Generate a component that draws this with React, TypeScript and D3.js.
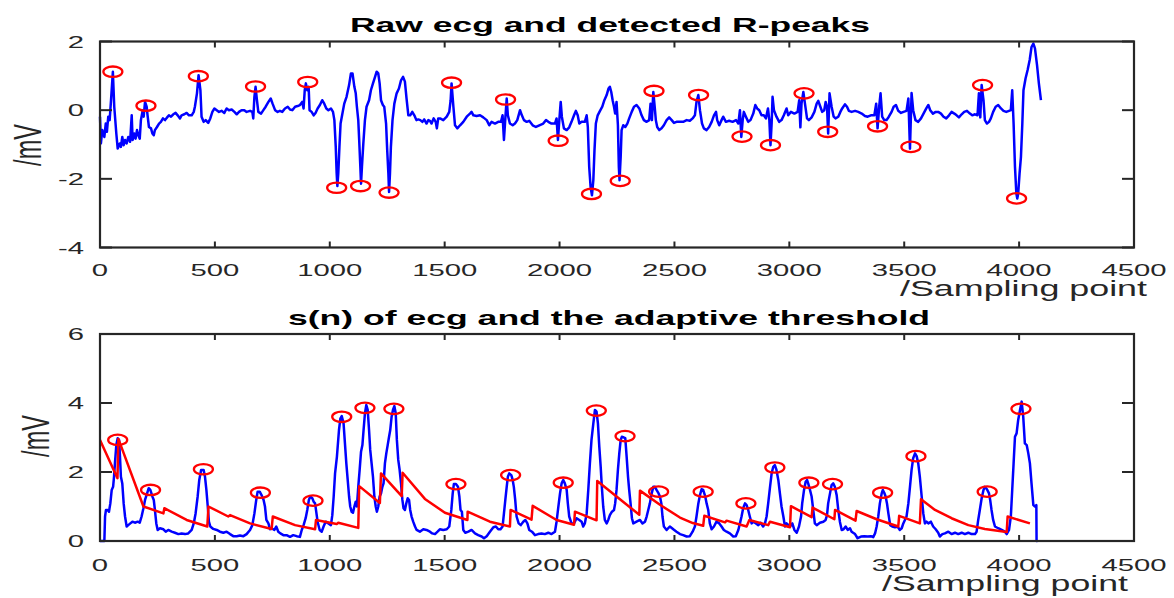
import React from "react";
import * as d3 from "d3";

// ---------- data ----------
const xTicks = [0, 500, 1000, 1500, 2000, 2500, 3000, 3500, 4000, 4500];
const topYTicks = [-4, -2, 0, 2];
const bottomYTicks = [0, 2, 4, 6];

const topTitle = "Raw ecg and detected R-peaks";
const bottomTitle = "s(n) of ecg and the adaptive threshold";
const xLabel = "/Sampling point";
const yLabel = "/mV";

// raw ECG [sample, mV]
const rawEcg: [number, number][] = [
  [0,-0.19],[4,-0.97],[10,-0.58],[19,-0.78],[25,-0.39],[30,-0.63],[36,-0.19],[42,-0.29],[48,0.29],[56,1.12],[62,0.10],[71,-0.68],[77,-1.12],[86,-0.97],[91,-1.07],[97,-0.78],[103,-1.02],[109,-0.87],[116,-0.97],[123,-0.78],[131,-0.92],[138,-0.15],[142,-0.87],[149,-0.68],[155,-0.83],[161,-0.58],[167,-0.73],[173,-0.83],[178,-0.29],[186,0],[190,-0.19],[196,0.24],[203,0.10],[207,-0.15],[213,-0.49],[222,-0.53],[228,-0.68],[234,-0.73],[239,-0.58],[248,-0.49],[257,-0.39],[265,-0.34],[274,-0.24],[283,-0.29],[292,-0.21],[300,-0.15],[309,-0.19],[319,-0.12],[329,-0.08],[338,-0.15],[348,-0.24],[355,-0.15],[367,-0.12],[377,-0.08],[387,-0.15],[399,-0.15],[408,-0.05],[413,0.10],[422,0.49],[429,1.02],[437,0.58],[442,-0.19],[451,-0.34],[460,-0.29],[471,-0.37],[480,-0.24],[489,-0.05],[498,0.05],[508,0],[518,-0.05],[529,-0.02],[541,-0.08],[551,0.05],[561,0],[573,0.02],[585,-0.05],[595,-0.12],[605,-0.05],[616,0],[628,0],[638,-0.05],[653,-0.02],[663,-0.05],[667,-0.24],[672,0.39],[677,0.68],[683,0.29],[689,-0.05],[701,-0.10],[711,0],[721,0.10],[733,0.24],[743,0.34],[751,0.19],[762,0],[773,-0.05],[783,-0.02],[793,-0.05],[805,0.05],[817,0.10],[827,0.02],[837,0],[849,0.10],[860,0.12],[870,0.15],[880,0.24],[886,0.05],[891,0.58],[896,0.78],[902,0.58],[908,0.68],[912,0],[921,-0.05],[930,-0.15],[938,-0.08],[947,0.05],[957,0.15],[967,0.29],[976,0.19],[985,0.05],[994,0],[1005,0.05],[1014,-0.05],[1020,-0.29],[1026,-1.07],[1030,-1.84],[1033,-2.21],[1037,-1.84],[1042,-1.07],[1047,-0.39],[1055,-0.10],[1063,0.19],[1073,0.39],[1084,0.73],[1092,1.07],[1099,1.07],[1107,0.68],[1113,0.49],[1118,0.10],[1124,-0.29],[1128,-0.87],[1133,-1.65],[1136,-2.14],[1140,-1.65],[1146,-0.97],[1153,-0.29],[1160,0.10],[1171,0.29],[1179,0.58],[1188,0.78],[1197,0.97],[1204,1.12],[1211,1.07],[1217,0.78],[1223,0.29],[1231,0.15],[1237,0.10],[1245,-0.39],[1250,-1.17],[1255,-1.84],[1258,-2.38],[1262,-1.84],[1266,-1.07],[1273,-0.29],[1281,0.19],[1291,0.49],[1301,0.63],[1310,0.87],[1319,0.97],[1327,0.83],[1334,0.34],[1342,-0.15],[1350,-0.15],[1359,-0.05],[1368,-0.15],[1377,-0.29],[1385,-0.27],[1394,-0.29],[1403,-0.34],[1411,-0.27],[1421,-0.39],[1429,-0.29],[1436,-0.31],[1443,-0.39],[1452,-0.24],[1461,-0.34],[1466,-0.53],[1472,-0.24],
  [1480,-0.24],[1494,-0.29],[1509,-0.19],[1520,-0.05],[1526,0.29],[1530,0.78],[1538,0.10],[1545,-0.44],[1555,-0.53],[1567,-0.44],[1581,-0.34],[1596,-0.19],[1610,-0.10],[1617,-0.05],[1625,-0.15],[1639,-0.17],[1654,-0.15],[1668,-0.21],[1683,-0.29],[1694,-0.44],[1704,-0.34],[1719,-0.39],[1733,-0.34],[1745,-0.34],[1752,-0.15],[1758,-0.87],[1764,-0.24],[1770,0.34],[1775,-0.15],[1784,-0.39],[1796,-0.44],[1806,-0.39],[1816,-0.29],[1828,0],[1836,-0.15],[1845,-0.29],[1857,-0.34],[1868,-0.31],[1883,-0.44],[1897,-0.49],[1912,-0.44],[1929,-0.39],[1941,-0.29],[1951,-0.34],[1965,-0.39],[1980,-0.39],[1987,-0.24],[1993,-0.87],[1999,-0.29],[2005,0.24],[2010,-0.19],[2019,-0.53],[2031,-0.58],[2042,-0.50],[2052,-0.34],[2063,-0.15],[2071,-0.02],[2079,-0.15],[2086,-0.39],[2096,-0.34],[2110,-0.34],[2118,-0.15],[2123,-0.49],[2129,-1.65],[2135,-2.23],[2141,-2.48],[2147,-2.04],[2152,-1.17],[2158,-0.39],[2166,-0.15],[2176,-0.02],[2186,0.10],[2195,0.29],[2205,0.44],[2213,0.63],[2219,0.68],[2225,0.53],[2231,0.29],[2237,0.10],[2242,-0.10],[2248,0.24],[2254,-0.44],[2258,-1.65],[2261,-2.04],[2266,-1.36],[2270,-0.58],[2277,-0.44],[2286,-0.49],[2295,-0.39],[2303,-0.24],[2314,-0.05],[2324,0.10],[2335,0.15],[2347,0.05],[2357,-0.15],[2367,-0.29],[2379,-0.34],[2390,-0.29],[2396,0.19],[2402,-0.29],[2408,0.53],[2414,0.10],[2419,-0.29],[2425,-0.49],[2434,-0.58],[2444,-0.53],[2454,-0.44],[2466,-0.29],[2477,-0.21],[2488,-0.29],[2498,-0.37],[2509,-0.34],[2524,-0.34],[2538,-0.34],[2553,-0.29],[2567,-0.31],[2579,-0.24],[2589,-0.15],[2596,0.24],[2604,0.44],[2611,0],[2620,-0.39],[2628,-0.53],[2640,-0.58],[2651,-0.49],[2662,-0.34],[2672,-0.15],[2681,-0.05],[2686,-0.29],[2695,-0.44],[2705,-0.29],[2712,-0.19],[2724,-0.34],[2738,-0.31],[2753,-0.34],[2768,-0.29],[2778,-0.39],[2785,0],[2791,-0.78],[2797,-0.29],[2802,-0.05],[2811,-0.19],[2821,-0.34],[2831,-0.29],[2843,-0.10],[2852,0.15],[2860,0.05],[2869,0],[2879,-0.15],[2889,-0.15],[2898,-0.24],[2907,0.05],[2913,-0.29],[2918,-1.02],[2923,-0.39],[2927,0.39],[2933,0],[2944,-0.19],[2956,-0.34],[2966,-0.29],[2976,-0.15],
  [2988,0.05],[2995,-0.15],[3007,-0.05],[3022,-0.10],[3036,-0.05],[3043,0.29],[3048,-0.50],[3053,0.19],[3061,0.53],[3068,0.19],[3077,-0.24],[3085,-0.29],[3097,-0.21],[3109,-0.05],[3119,0.19],[3126,0.27],[3135,0.10],[3143,-0.05],[3152,0],[3158,0.24],[3164,0.10],[3169,-0.68],[3175,0.49],[3184,0.10],[3193,-0.19],[3201,-0.24],[3213,-0.19],[3222,-0.05],[3230,0.05],[3242,0.17],[3251,0.10],[3259,-0.02],[3271,-0.05],[3286,-0.02],[3300,-0.05],[3315,-0.10],[3329,-0.17],[3341,-0.19],[3355,-0.15],[3370,-0.15],[3378,0.19],[3384,-0.53],[3391,0.10],[3397,0.49],[3404,-0.19],[3413,-0.29],[3423,-0.29],[3433,-0.19],[3445,-0.05],[3454,0.10],[3464,0.15],[3474,-0.02],[3486,-0.08],[3497,-0.05],[3510,-0.02],[3518,0.34],[3525,-1.12],[3532,0.50],[3539,0],[3549,-0.29],[3561,-0.34],[3573,-0.24],[3584,-0.10],[3596,0.05],[3605,0.15],[3613,0],[3625,-0.10],[3637,-0.05],[3648,-0.05],[3660,-0.10],[3671,-0.19],[3683,-0.24],[3695,-0.15],[3706,-0.05],[3718,-0.10],[3728,-0.15],[3738,-0.21],[3750,-0.12],[3761,-0.05],[3773,-0.02],[3786,-0.10],[3796,-0.15],[3808,-0.12],[3819,-0.15],[3825,0.49],[3831,-0.21],[3837,0.73],[3845,0.29],[3851,-0.29],[3860,-0.39],[3869,-0.34],[3877,-0.24],[3887,-0.05],[3898,0.10],[3909,0.15],[3921,0.05],[3932,-0.02],[3944,-0.05],[3956,-0.02],[3964,0],[3970,0.58],[3976,-0.39],[3982,-1.65],[3988,-2.43],[3992,-2.57],[3996,-2.43],[4002,-1.84],[4008,-1.36],[4014,-0.39],[4019,0.58],[4028,0.92],[4037,1.17],[4046,1.46],[4054,1.84],[4062,1.94],[4069,1.80],[4078,1.31],[4086,0.78],[4095,0.29],
];

// detected R-peaks on raw ECG [sample, mV]
const rawPeaks: [number, number][] = [
  [56,1.12],[200,0.13],[428,0.99],[677,0.69],[904,0.82],[1030,-2.26],[1134,-2.21],[1258,-2.40],[1530,0.80],[1765,0.31],[1994,-0.89],[2139,-2.44],[2264,-2.06],[2411,0.56],[2605,0.44],[2794,-0.77],[2918,-1.02],[3064,0.49],[3167,-0.63],[3384,-0.47],[3529,-1.07],[3841,0.73],[3989,-2.57],
];

// s(n) [sample, value]
const sSignal: [number, number][] = [
  [0,0],[19,0],[22,0.71],[26,0.90],[33,0.90],[39,0.85],[45,1.09],[51,1.48],[57,1.57],[61,1.86],[65,2.25],[71,2.78],[77,2.98],[83,2.93],[87,2.44],[91,1.86],[97,1.67],[103,1.09],[109,0.71],[116,0.42],[123,0.46],[132,0.51],[141,0.56],[152,0.53],[164,0.56],[173,0.53],[181,0.71],[189,0.95],[196,1.19],[205,1.38],[212,1.53],[219,1.48],[228,1.29],[234,1.19],[239,0.90],[245,0.51],[251,0.32],[261,0.37],[276,0.34],[286,0.27],[297,0.32],[312,0.27],[326,0.24],[341,0.20],[355,0.22],[370,0.20],[384,0.22],[399,0.32],[408,0.51],[416,0.80],[425,1.29],[432,1.77],[440,2.06],[451,2.06],[457,1.86],[463,1.48],[469,1.00],[474,0.56],[480,0.42],[493,0.35],[508,0.32],[522,0.27],[537,0.24],[551,0.27],[566,0.20],[580,0.14],[595,0.14],[609,0.16],[624,0.14],[638,0.20],[653,0.32],[663,0.46],[672,0.80],[680,1.19],[686,1.43],[695,1.43],[703,1.33],[712,1.19],[718,1.00],[724,0.61],[733,0.51],[740,0.34],[747,0.37],[759,0.32],[767,0.42],[776,0.27],[785,0.22],[798,0.17],[812,0.17],[827,0.12],[841,0.17],[856,0.14],[870,0.12],[878,0.32],[886,0.46],[895,0.66],[902,0.90],[909,1.19],[915,1.29],[924,1.24],[930,1.14],[936,1.09],[941,0.85],[947,0.56],[956,0.32],[965,0.27],[973,0.42],[982,0.56],[994,0.51],[1005,0.46],[1011,0.75],[1017,1.29],[1023,1.96],[1031,2.44],[1040,3.21],[1046,3.55],[1052,3.62],[1060,3.41],[1066,2.83],[1072,2.25],[1078,1.77],[1084,1.29],[1089,1.00],[1095,0.85],[1101,0.82],[1107,1.00],[1113,1.14],[1118,1.00],[1124,1.57],[1130,2.06],[1136,2.59],[1142,2.78],[1147,3.21],[1153,3.70],[1159,3.94],[1165,3.80],[1171,3.21],[1176,2.64],[1182,2.25],[1188,1.86],[1194,1.29],[1200,1.00],[1205,0.85],[1211,1.00],[1217,1.29],[1223,1.38],[1229,1.57],[1234,1.67],[1240,2.25],[1246,2.54],[1252,2.78],[1258,3.02],[1263,3.21],[1269,3.60],[1275,3.80],[1281,3.91],[1287,3.70],[1292,2.93],[1298,2.35],[1304,2.06],[1310,1.67],[1316,1.19],[1321,0.95],[1327,0.90],[1333,1.09],[1339,1.24],[1345,1.19],[1350,0.90],[1356,0.71],[1363,0.56],[1371,0.42],[1378,0.32],[1392,0.27],[1407,0.34],[1421,0.32],[1436,0.27],[1446,0.22],[1458,0.20],[1469,0.27],[1479,0.34],
  [1494,0.32],[1509,0.34],[1520,0.42],[1529,0.90],[1535,1.38],[1540,1.65],[1549,1.65],[1558,1.57],[1564,1.29],[1569,0.90],[1575,0.85],[1581,0.32],[1590,0.24],[1603,0.27],[1617,0.32],[1632,0.22],[1646,0.17],[1661,0.13],[1671,0.08],[1683,0.14],[1697,0.27],[1712,0.40],[1723,0.42],[1733,0.34],[1743,0.34],[1752,0.42],[1758,0.80],[1764,1.19],[1770,1.57],[1775,1.86],[1781,1.96],[1790,1.91],[1796,1.77],[1801,1.57],[1807,1.19],[1813,0.71],[1822,0.51],[1831,0.46],[1842,0.56],[1851,0.61],[1860,0.51],[1868,0.32],[1880,0.27],[1893,0.17],[1907,0.20],[1922,0.22],[1936,0.20],[1951,0.24],[1965,0.20],[1980,0.27],[1987,0.56],[1994,0.95],[2002,1.38],[2009,1.67],[2016,1.77],[2023,1.67],[2031,1.48],[2036,1.09],[2042,0.71],[2052,0.51],[2063,0.51],[2074,0.66],[2086,0.61],[2096,0.56],[2103,0.42],[2110,0.51],[2118,0.80],[2125,1.48],[2132,2.25],[2139,2.93],[2147,3.41],[2154,3.80],[2161,3.75],[2167,3.41],[2173,2.73],[2179,2.15],[2184,1.57],[2190,1.00],[2197,0.61],[2205,0.51],[2212,0.61],[2219,0.75],[2228,0.85],[2237,0.90],[2242,1.09],[2248,1.48],[2254,2.06],[2260,2.54],[2266,2.93],[2271,3.02],[2280,3.00],[2286,2.98],[2292,2.44],[2298,1.86],[2303,1.48],[2309,1.09],[2315,0.66],[2321,0.51],[2335,0.56],[2350,0.61],[2361,0.51],[2372,0.56],[2379,0.71],[2386,0.90],[2393,1.09],[2401,1.38],[2408,1.57],[2415,1.57],[2422,1.48],[2431,1.38],[2437,1.29],[2443,1.09],[2448,0.71],[2454,0.42],[2466,0.32],[2480,0.42],[2495,0.34],[2509,0.27],[2524,0.20],[2538,0.17],[2553,0.13],[2567,0.14],[2579,0.27],[2589,0.42],[2596,0.71],[2604,1.09],[2611,1.33],[2618,1.50],[2625,1.48],[2634,1.29],[2640,1.09],[2647,0.90],[2654,0.51],[2662,0.34],[2672,0.42],[2683,0.56],[2695,0.51],[2705,0.42],[2715,0.32],[2727,0.27],[2741,0.22],[2756,0.13],[2767,0.14],[2778,0.32],[2785,0.51],[2792,0.71],[2799,0.95],[2807,1.09],[2814,1.04],[2821,0.90],[2828,0.71],[2836,0.51],[2843,0.56],[2855,0.51],[2865,0.46],[2875,0.53],[2886,0.42],[2894,0.51],[2901,0.71],[2908,1.09],[2916,1.57],[2923,1.96],[2930,2.15],[2937,2.20],[2944,2.06],[2952,1.77],[2959,1.38],[2966,1.00],[2974,0.71],[2981,0.42],[2988,0.51],
  [3003,0.42],[3013,0.51],[3022,0.32],[3032,0.24],[3042,0.42],[3051,0.71],[3056,1.09],[3064,1.48],[3071,1.72],[3077,1.77],[3082,1.67],[3090,1.48],[3097,1.29],[3104,0.90],[3111,0.51],[3119,0.46],[3133,0.53],[3148,0.56],[3158,0.61],[3164,0.75],[3169,1.09],[3177,1.38],[3184,1.62],[3191,1.67],[3198,1.57],[3206,1.33],[3213,0.90],[3220,0.56],[3228,0.32],[3236,0.34],[3245,0.42],[3254,0.32],[3264,0.37],[3271,0.27],[3286,0.20],[3297,0.08],[3312,0.13],[3326,0.14],[3341,0.13],[3355,0.14],[3365,0.11],[3373,0.22],[3380,0.42],[3387,0.71],[3394,1.09],[3402,1.38],[3407,1.48],[3413,1.40],[3419,1.29],[3425,1.09],[3431,0.80],[3439,0.46],[3448,0.42],[3460,0.40],[3471,0.42],[3481,0.32],[3489,0.37],[3496,0.51],[3503,0.61],[3510,0.71],[3518,1.09],[3525,1.57],[3532,2.06],[3539,2.40],[3547,2.54],[3554,2.46],[3561,2.25],[3568,1.86],[3576,1.29],[3583,0.80],[3590,0.51],[3597,0.56],[3605,0.51],[3616,0.56],[3626,0.42],[3637,0.34],[3648,0.24],[3655,0.13],[3666,0.20],[3677,0.22],[3692,0.27],[3706,0.20],[3721,0.24],[3735,0.20],[3750,0.24],[3764,0.20],[3779,0.24],[3793,0.20],[3808,0.20],[3815,0.27],[3822,0.61],[3829,0.90],[3837,1.24],[3845,1.48],[3851,1.57],[3860,1.50],[3869,1.38],[3874,1.19],[3880,0.90],[3887,0.61],[3895,0.42],[3909,0.37],[3924,0.32],[3938,0.27],[3946,0.20],[3956,0.32],[3964,0.71],[3970,1.48],[3976,2.25],[3982,3.02],[3989,3.12],[3996,3.51],[4004,3.80],[4011,4.04],[4018,3.60],[4025,2.83],[4033,2.78],[4040,2.54],[4047,2.25],[4054,1.67],[4062,1.04],[4069,1.00],[4075,1.04],[4076,0],[4080,0],
];

// detected peaks on s(n)
const sPeaks: [number, number][] = [
  [77,2.93],[220,1.48],[450,2.08],[698,1.40],[927,1.17],[1052,3.60],[1153,3.86],[1279,3.83],[1549,1.65],[1787,1.91],[2016,1.69],[2160,3.78],[2285,3.04],[2431,1.43],[2625,1.43],[2811,1.09],[2937,2.13],[3085,1.69],[3188,1.65],[3406,1.40],[3551,2.46],[3861,1.43],[4008,3.83],
];

// adaptive threshold
const threshold: [number, number][] = [
  [0,2.93],[76,1.82],[80,2.96],[189,1.00],[276,0.80],[280,0.95],[377,0.61],[467,0.42],[472,1.00],[558,0.71],[566,0.75],[653,0.51],[747,0.35],[752,0.71],[849,0.46],[936,0.34],[940,0.61],[1030,0.49],[1037,0.53],[1124,0.38],[1128,1.59],[1218,1.10],[1223,1.96],[1313,1.30],[1317,1.98],[1414,1.22],[1501,0.82],[1599,0.61],[1600,0.85],[1697,0.56],[1784,0.42],[1787,0.90],[1878,0.62],[1883,1.02],[1987,0.61],[2063,0.47],[2067,0.85],[2161,0.60],[2164,1.74],[2248,1.29],[2347,0.76],[2350,1.46],[2437,1.05],[2524,0.68],[2580,0.52],[2625,0.44],[2630,0.73],[2720,0.54],[2727,0.59],[2814,0.42],[2826,0.61],[2908,0.46],[2916,0.56],[3003,0.40],[3007,1.01],[3097,0.69],[3101,0.97],[3196,0.63],[3199,0.90],[3288,0.59],[3293,0.87],[3380,0.63],[3474,0.42],[3478,0.73],[3568,0.51],[3573,1.21],[3634,0.90],[3706,0.66],[3779,0.46],[3851,0.35],[3946,0.26],[3950,0.71],[4047,0.51],
];

// ---------- layout ----------
const W = 1174;
const H = 598;
const FONT = "'Liberation Sans', Arial, Helvetica, sans-serif";
const AX = "#262626";
const SX = 1.7;

type PanelProps = {
  top: number;
  bottom: number;
  yDomain: [number, number];
  yTicks: number[];
  title: string;
  titleX: number;
  titleY: number;
  titleLen: number;
  tickBase: number;
  xlabX: number;
  xlabY: number;
  xlabLen: number;
  ylabX: number;
  ylabY: number;
  children: (x: d3.ScaleLinear<number, number>, y: d3.ScaleLinear<number, number>) => React.ReactNode;
};

function Panel(p: PanelProps) {
  const x = d3.scaleLinear().domain([0, 4500]).range([100, 1134]);
  const y = d3.scaleLinear().domain(p.yDomain).range([p.bottom, p.top]);
  const [x0, x1] = x.range();
  return (
    <g>
      {p.children(x, y)}
      <rect x={x0} y={p.top} width={x1 - x0} height={p.bottom - p.top} fill="none" stroke={AX} strokeWidth={2.2} />
      {xTicks.map((t) => (
        <g key={"xt" + t}>
          <line x1={x(t)} x2={x(t)} y1={p.bottom} y2={p.bottom - 6} stroke={AX} strokeWidth={2} />
          <line x1={x(t)} x2={x(t)} y1={p.top} y2={p.top + 6} stroke={AX} strokeWidth={2} />
          <text transform={`translate(${x(t)},${p.tickBase}) scale(${SX},1)`} textAnchor="middle" fontSize={17.2} fill={AX} fontFamily={FONT}>
            {t}
          </text>
        </g>
      ))}
      {p.yTicks.map((t) => (
        <g key={"yt" + t}>
          <line x1={x0} x2={x0 + 12} y1={y(t)} y2={y(t)} stroke={AX} strokeWidth={2} />
          <line x1={x1} x2={x1 - 12} y1={y(t)} y2={y(t)} stroke={AX} strokeWidth={2} />
          <text transform={`translate(84,${y(t) + 6.3}) scale(${SX},1)`} textAnchor="end" fontSize={17.2} fill={AX} fontFamily={FONT}>
            {t}
          </text>
        </g>
      ))}
      <text x={p.titleX} y={p.titleY} textAnchor="middle" fontWeight="bold" fontSize={21} fill="#000" fontFamily={FONT} textLength={p.titleLen} lengthAdjust="spacingAndGlyphs">
        {p.title}
      </text>
      <text x={p.xlabX} y={p.xlabY} fontSize={22.5} fill={AX} fontFamily={FONT} textLength={p.xlabLen} lengthAdjust="spacingAndGlyphs">
        {xLabel}
      </text>
      <text transform={`translate(${p.ylabX},${p.ylabY}) scale(1.62,1) rotate(-90)`} textAnchor="middle" fontSize={23.5} fill={AX} fontFamily={FONT}>
        {yLabel}
      </text>
    </g>
  );
}

export default function App() {
  const mkLine = (x: any, y: any) =>
    d3
      .line<[number, number]>()
      .x((d) => x(d[0]))
      .y((d) => y(d[1]));
  return (
    <svg width={W} height={H} style={{ position: "absolute", left: 0, top: 0, background: "#fff" }}>
      <rect width={W} height={H} fill="#fff" />
      <Panel top={41.5} bottom={247.5} yDomain={[-4, 2]} yTicks={topYTicks} title={topTitle} titleX={610} titleY={32} titleLen={520} tickBase={276} xlabX={900} xlabY={295.5} xlabLen={247} ylabX={41} ylabY={145}>
        {(x, y) => (
          <g>
            <path d={mkLine(x, y)(rawEcg) || ""} fill="none" stroke="#0000ff" strokeWidth={2.5} strokeLinejoin="round" />
            {rawPeaks.map((d, i) => (
              <ellipse key={i} cx={x(d[0])} cy={y(d[1])} rx={9.5} ry={5.2} fill="none" stroke="#ff0000" strokeWidth={2.3} />
            ))}
          </g>
        )}
      </Panel>
      <Panel top={334} bottom={541} yDomain={[0, 6]} yTicks={bottomYTicks} title={bottomTitle} titleX={609} titleY={325} titleLen={642} tickBase={571} xlabX={882} xlabY={590.5} xlabLen={246} ylabX={49} ylabY={436}>
        {(x, y) => (
          <g>
            <path d={mkLine(x, y)(sSignal) || ""} fill="none" stroke="#0000ff" strokeWidth={2.5} strokeLinejoin="round" />
            <path d={mkLine(x, y)(threshold) || ""} fill="none" stroke="#ff0000" strokeWidth={2.5} strokeLinejoin="round" />
            {sPeaks.map((d, i) => (
              <ellipse key={i} cx={x(d[0])} cy={y(d[1])} rx={9.5} ry={5.2} fill="none" stroke="#ff0000" strokeWidth={2.3} />
            ))}
          </g>
        )}
      </Panel>
    </svg>
  );
}
